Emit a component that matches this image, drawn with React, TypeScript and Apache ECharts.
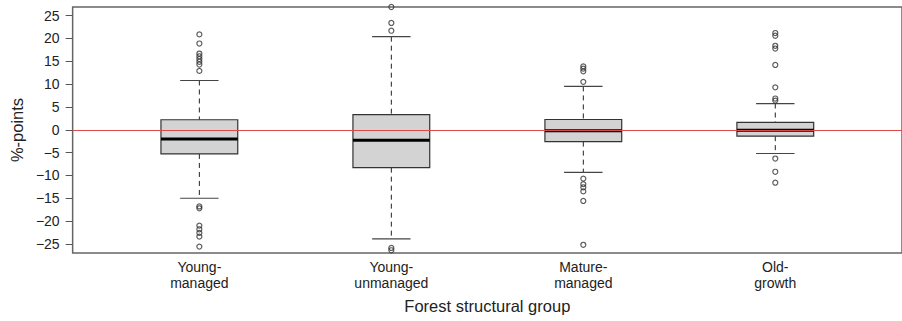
import React, { useEffect, useRef } from "react";
import * as echarts from "echarts";

const categories = ["Young-\nmanaged", "Young-\nunmanaged", "Mature-\nmanaged", "Old-\ngrowth"];
const positions = [1, 2, 3, 4];
const lowerWhisker = [-15.0, -23.9, -9.35, -5.2];
const quartile1 = [-5.3, -8.3, -2.6, -1.4];
const median = [-2.0, -2.3, -0.2, -0.1];
const quartile3 = [2.2, 3.3, 2.25, 1.6];
const upperWhisker = [10.8, 20.4, 9.5, 5.75];

const outliersYoungManaged = [20.9, 18.9, 16.7, 16.1, 15.5, 14.9, 14.3, 12.9, -16.8, -17.2, -21.0, -21.8, -22.6, -23.4, -25.6];
const outliersYoungUnmanaged = [26.9, 23.4, 21.7, -25.9, -26.4];
const outliersMatureManaged = [13.9, 13.4, 12.8, 10.5, -10.7, -11.9, -12.6, -13.5, -15.6, -25.2];
const outliersOldGrowth = [21.2, 20.6, 18.4, 17.8, 14.2, 9.3, 6.85, 6.4, -6.3, -9.2, -11.6];
const outlierGroups = [outliersYoungManaged, outliersYoungUnmanaged, outliersMatureManaged, outliersOldGrowth];

const yTicks = [-25, -20, -15, -10, -5, 0, 5, 10, 15, 20, 25];
const yMin = -27;
const yMax = 26.9;
const xMin = 0.34;
const xMax = 4.66;

const FONT = "'Liberation Sans', Arial, sans-serif";

export default function App() {
  const ref = useRef<HTMLDivElement>(null);
  useEffect(() => {
    if (!ref.current) return;
    const chart = echarts.init(ref.current, undefined, { renderer: "svg" });

    const boxData = positions.map((p, i) => [p, lowerWhisker[i], quartile1[i], median[i], quartile3[i], upperWhisker[i]]);
    const outlierData: number[][] = [];
    outlierGroups.forEach((g, i) => g.forEach((v) => outlierData.push([positions[i], v])));

    const renderItem = (params: any, api: any) => {
      const x = api.value(0);
      const lo = api.coord([x, api.value(1)]);
      const q1 = api.coord([x, api.value(2)]);
      const md = api.coord([x, api.value(3)]);
      const q3 = api.coord([x, api.value(4)]);
      const hi = api.coord([x, api.value(5)]);
      const half = api.size([0.2, 0])[0];
      const cap = api.size([0.1, 0])[0];
      const cx = lo[0];
      const dash = { stroke: "#222", lineWidth: 1, lineDash: [5, 4] };
      const capStyle = { stroke: "#444", lineWidth: 1.2 };
      return {
        type: "group",
        children: [
          { type: "line", shape: { x1: cx, y1: hi[1], x2: cx, y2: q3[1] }, style: dash },
          { type: "line", shape: { x1: cx, y1: q1[1], x2: cx, y2: lo[1] }, style: dash },
          { type: "line", shape: { x1: cx - cap, y1: hi[1], x2: cx + cap, y2: hi[1] }, style: capStyle },
          { type: "line", shape: { x1: cx - cap, y1: lo[1], x2: cx + cap, y2: lo[1] }, style: capStyle },
          {
            type: "rect",
            shape: { x: cx - half, y: q3[1], width: half * 2, height: q1[1] - q3[1] },
            style: { fill: "#d3d3d3", stroke: "#333", lineWidth: 1.2 },
          },
          { type: "line", shape: { x1: cx - half, y1: md[1], x2: cx + half, y2: md[1] }, style: { stroke: "#000", lineWidth: 3 } },
        ],
      };
    };

    chart.setOption({
      animation: false,
      backgroundColor: "#fff",
      grid: {
        left: 71,
        top: 7,
        bottom: 68,
        width: 838,
        show: true,
        borderColor: "#666",
        borderWidth: 1.5,
        backgroundColor: "transparent",
      },
      xAxis: {
        type: "value",
        min: xMin,
        max: xMax,
        axisLine: { show: false },
        axisTick: { show: false },
        splitLine: { show: false },
        axisLabel: {
          customValues: positions,
          formatter: (v: number) => {
            const i = positions.indexOf(Math.round(v));
            return i >= 0 ? categories[i] : "";
          },
          fontFamily: FONT,
          fontSize: 14,
          lineHeight: 16,
          color: "#222",
          margin: 6,
        },
        name: "Forest structural group",
        nameLocation: "middle",
        nameGap: 44,
        nameTextStyle: { fontFamily: FONT, fontSize: 16.5, color: "#222" },
      },
      yAxis: {
        type: "value",
        min: yMin,
        max: yMax,
        axisLine: { show: false },
        splitLine: { show: false },
        axisTick: { show: true, length: 7, customValues: yTicks, lineStyle: { color: "#555", width: 1 } },
        axisLabel: {
          customValues: yTicks,
          formatter: (v: number) => (v < 0 ? "\u2212" + Math.abs(v) : String(v)),
          fontFamily: FONT,
          fontSize: 14,
          color: "#222",
          margin: 13,
        },
        name: "%-points",
        nameLocation: "middle",
        nameGap: 45,
        nameTextStyle: { fontFamily: FONT, fontSize: 16.5, color: "#222" },
      },
      series: [
        {
          type: "custom",
          renderItem,
          data: boxData,
          encode: { x: 0, y: [1, 2, 3, 4, 5] },
          z: 2,
          silent: true,
        },
        {
          type: "scatter",
          data: outlierData,
          symbol: "circle",
          symbolSize: 5,
          itemStyle: { color: "rgba(0,0,0,0)", borderColor: "#333", borderWidth: 1.2 },
          z: 3,
          silent: true,
        },
        {
          type: "line",
          data: [],
          z: 10,
          markLine: {
            silent: true,
            symbol: ["none", "none"],
            label: { show: false },
            lineStyle: { color: "#e0474c", width: 1, type: "solid" },
            data: [{ yAxis: 0 }],
          },
        },
      ],
    });
    return () => chart.dispose();
  }, []);
  return <div ref={ref} style={{ position: "absolute", left: 0, top: 0, width: 902, height: 321 }} />;
}
